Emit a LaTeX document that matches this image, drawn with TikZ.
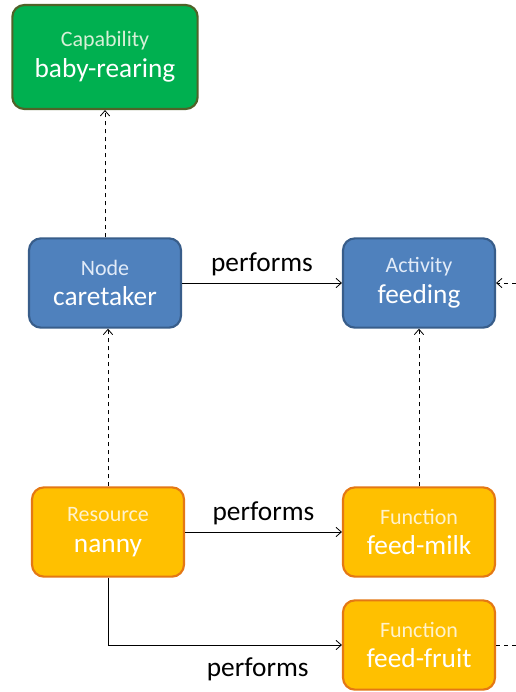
\documentclass[tikz,border=0pt]{standalone}
\usepackage{fontspec}
\setmainfont{Carlito}
\usepackage{tikz}
\usetikzlibrary{arrows.meta, positioning}

\definecolor{capfill}{RGB}{0,176,80}
\definecolor{capline}{RGB}{80,98,40}
\definecolor{captext}{RGB}{215,240,215}
\definecolor{opfill}{RGB}{79,129,189}
\definecolor{opline}{RGB}{56,93,138}
\definecolor{optext}{RGB}{225,235,248}
\definecolor{resfill}{RGB}{255,192,0}
\definecolor{resline}{RGB}{228,120,20}
\definecolor{restext}{RGB}{255,242,204}

\tikzset{
    box/.style={rounded corners=9pt, line width=1.6pt, text=white, align=center,
        minimum width=114pt, minimum height=67pt,
        font=\fontsize{20.5}{23}\selectfont},
    capbox/.style={box, fill=capfill, draw=capline, minimum width=139pt, minimum height=78pt},
    opbox/.style={box, fill=opfill, draw=opline},
    resbox/.style={box, fill=resfill, draw=resline},
    rel/.style={line width=0.6pt, -{Straight Barb[length=4pt, width=7pt]}},
    lbl/.style={font=\fontsize{20.5}{23}\selectfont, text=black}
}
\newcommand{\ttl}[2]{{\fontsize{16.5}{19}\selectfont\color{#1}#2}}

\begin{document}
\begin{tikzpicture}[x=0.75pt, y=-0.75pt]
        \useasboundingbox (0,0) rectangle (516,692);
        \node[capbox] (cap) at (105,57) {\ttl{captext}{Capability}\\baby-rearing};
        \node[opbox] (care) at (105,283) {\ttl{optext}{Node}\\caretaker};
        \node[opbox] (feed) at (419,283) {\ttl{optext}{Activity}\\feeding};
        \node[resbox] (nanny) at (108,532) {\ttl{restext}{Resource}\\nanny};
        \node[resbox] (milk) at (419,532) {\ttl{restext}{Function}\\feed-milk};
        \node[resbox] (fruit) at (419,645) {\ttl{restext}{Function}\\feed-fruit};
        \coordinate (inR) at (516,283);
        \coordinate (outR) at (516,645);
        \draw[rel, dashed] (care) to (cap);
        \draw[rel] (care) to node[lbl, above=2pt, pos=0.5] {performs} (feed);
        \draw[rel, dashed] (nanny.north) to (nanny.north |- care.south);
        \draw[rel, dashed] (milk) to (feed);
        \draw[rel] (nanny) to node[lbl, above=2pt, pos=0.5] {performs} (milk);
        \draw[rel] (nanny.south) |- node[lbl, below=6pt, pos=0.82] {performs} (fruit.west);
        \draw[rel, dashed] (inR) to (feed);
        \draw[line width=0.6pt, dashed] (fruit) to (outR);
    \end{tikzpicture}
\end{document}
